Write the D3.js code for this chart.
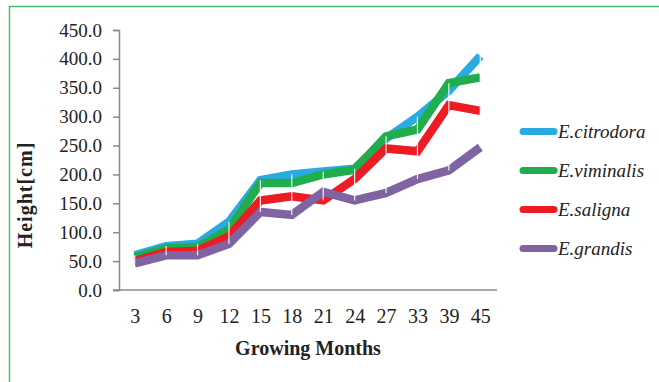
<!DOCTYPE html>
<html>
<head>
<meta charset="utf-8">
<script src="https://cdn.jsdelivr.net/npm/d3@7"></script>
<style>
  body { margin: 0; background: #fff; }
  svg { display: block; }
</style>
</head>
<body>
<div id="chart"></div>
<script>
var months = ["3", "6", "9", "12", "15", "18", "21", "24", "27", "33", "39", "45"]
var seriesNames = ["E.citrodora", "E.viminalis", "E.saligna", "E.grandis"]
var citrodora = [60, 76, 80, 118, 190, 200, 205, 210, 262, 300, 345, 405]
var viminalis = [56, 72, 74, 105, 185, 185, 200, 208, 266, 278, 358, 368]
var saligna = [50, 66, 68, 93, 155, 162, 155, 192, 245, 240, 320, 310]
var grandis = [46, 60, 60, 80, 135, 130, 170, 155, 168, 192, 207, 247]
var colors = ["#29abe2", "#1fae4b", "#ed1c24", "#8064a2"]
var yTicks = [0, 50, 100, 150, 200, 250, 300, 350, 400, 450]

var width = 659, height = 382

var svg = d3.select("#chart").append("svg")
    .attr("width", width)
    .attr("height", height)

// outer frame, runs off the right and bottom edges
svg.append("rect")
    .attr("x", 9.5).attr("y", 6.5)
    .attr("width", 700).attr("height", 400)
    .attr("fill", "none")
    .attr("stroke", "#4cbb6c")
    .attr("stroke-width", 1.5)

var x = d3.scalePoint().domain(months).range([119, 496]).padding(0.5)
var y = d3.scaleLinear().domain([0, 450]).range([290, 30])

var series = [citrodora, viminalis, saligna, grandis].map((vals, i) => {
    return {name: seriesNames[i], color: colors[i], values: vals}
})

// y axis
var yAxis = svg.append("g")
    .attr("transform", "translate(119,0)")
    .call(d3.axisLeft(y).tickValues(yTicks).tickFormat(d3.format(".1f")).tickSize(6).tickPadding(11))
yAxis.selectAll("path, line").attr("stroke", "#8a8a8a").attr("stroke-width", 1.5)
yAxis.selectAll("text")
    .attr("font-family", "'Liberation Serif', 'Times New Roman', serif")
    .attr("font-size", 19)
    .attr("fill", "#222")

// x axis
var xAxis = svg.append("g")
    .attr("transform", "translate(0,290)")
    .call(d3.axisBottom(x).tickSize(0).tickPadding(19))
xAxis.select(".domain").attr("d", "M113,0H497").attr("stroke", "#8a8a8a").attr("stroke-width", 1.5)
xAxis.selectAll("text")
    .attr("font-family", "'Liberation Serif', 'Times New Roman', serif")
    .attr("font-size", 20)
    .attr("fill", "#222")

// lines
var line = d3.line()
    .x((d, i) => x(months[i]))
    .y(d => y(d))

svg.append("g").selectAll("path")
    .data(series)
    .enter().append("path")
    .attr("d", d => line(d.values))
    .attr("fill", "none")
    .attr("stroke", d => d.color)
    .attr("stroke-width", 8.5)
    .attr("stroke-linejoin", "miter")

// thin white bars at each month
svg.append("g").selectAll("line")
    .data(months)
    .enter().append("line")
    .attr("x1", d => x(d)).attr("x2", d => x(d))
    .attr("y1", (d, i) => y(d3.max(series, s => s.values[i])))
    .attr("y2", (d, i) => y(d3.min(series, s => s.values[i])))
    .attr("stroke", "#fff")
    .attr("stroke-width", 1.2)
    .attr("opacity", 0.9)

// axis titles
svg.append("text")
    .attr("transform", "translate(32,195) rotate(-90)")
    .attr("text-anchor", "middle")
    .attr("font-family", "'Liberation Serif', 'Times New Roman', serif")
    .attr("font-weight", "bold")
    .attr("font-size", 20)
    .attr("letter-spacing", 1)
    .attr("fill", "#222")
    .text("Height[cm]")

svg.append("text")
    .attr("x", 308).attr("y", 355)
    .attr("text-anchor", "middle")
    .attr("font-family", "'Liberation Serif', 'Times New Roman', serif")
    .attr("font-weight", "bold")
    .attr("font-size", 20)
    .attr("fill", "#222")
    .text("Growing Months")

// legend
var legend = svg.append("g").selectAll("g")
    .data(series)
    .enter().append("g")
    .attr("transform", (d, i) => "translate(0," + (131.5 + i * 39) + ")")

legend.append("line")
    .attr("x1", 523).attr("x2", 554)
    .attr("stroke", d => d.color)
    .attr("stroke-width", 7)
    .attr("stroke-linecap", "round")

legend.append("text")
    .attr("x", 558).attr("y", 6.5)
    .attr("font-family", "'Liberation Serif', 'Times New Roman', serif")
    .attr("font-style", "italic")
    .attr("font-size", 19)
    .attr("fill", "#222")
    .text(d => d.name)
</script>
</body>
</html>
